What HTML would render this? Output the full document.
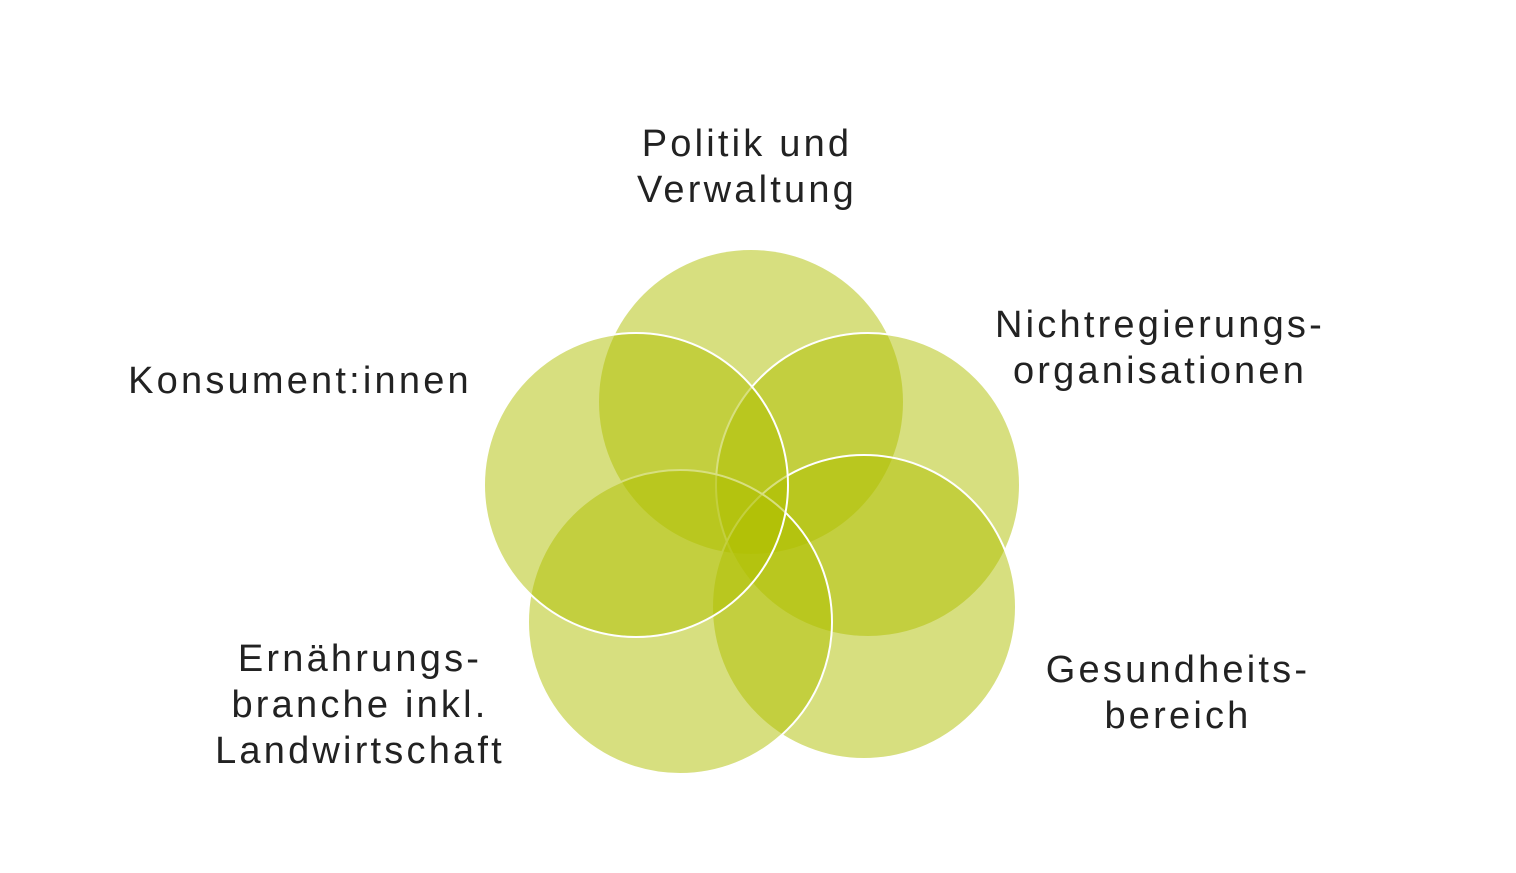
<!DOCTYPE html>
<html><head><meta charset="utf-8"><style>
html,body{margin:0;padding:0;background:#fff;}
body{width:1516px;height:873px;position:relative;overflow:hidden;font-family:"Liberation Sans",sans-serif;}
.l{position:absolute;color:#222;font-size:38px;line-height:46px;text-align:center;letter-spacing:3.2px;}
</style></head><body>
<svg width="1516" height="873" style="position:absolute;left:0;top:0">
<g fill="rgb(175,192,0)" fill-opacity="0.5" stroke="#fff" stroke-width="2">
<circle cx="751" cy="402" r="152" stroke="none"/>
<circle cx="868" cy="485" r="152"/>
<circle cx="864" cy="607" r="152"/>
<circle cx="680" cy="622" r="152"/>
<circle cx="636" cy="485" r="152"/>
</g>
</svg>
<div class="l" style="left:547px;top:121px;width:400px">Politik und<br>Verwaltung</div>
<div class="l" style="left:960px;top:302px;width:400px">Nichtregierungs-<br>organisationen</div>
<div class="l" style="left:100px;top:358px;width:400px">Konsument:innen</div>
<div class="l" style="left:978px;top:647px;width:400px">Gesundheits-<br>bereich</div>
<div class="l" style="left:160px;top:636px;width:400px">Ernährungs-<br>branche inkl.<br>Landwirtschaft</div>
</body></html>
